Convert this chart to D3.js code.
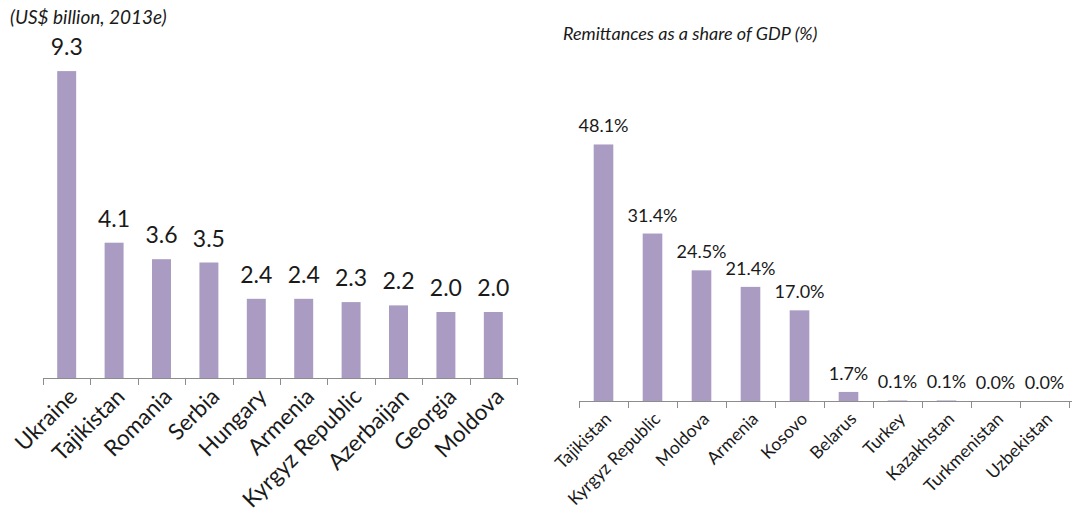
<!DOCTYPE html>
<html>
<head>
<meta charset="utf-8">
<script src="https://cdn.jsdelivr.net/npm/d3@7"></script>
<style>
  body { margin: 0; background: #fff; }
  svg text { font-family: Lato, "Open Sans", sans-serif; fill: #1a1a1a; }
</style>
</head>
<body>
<div id="chart"></div>
<script>
// Left panel: remittance inflows, US$ billion (2013e)
const volumeCountries = ["Ukraine", "Tajikistan", "Romania", "Serbia", "Hungary", "Armenia",
    "Kyrgyz Republic", "Azerbaijan", "Georgia", "Moldova"];
const volumeValues = [9.3, 4.1, 3.6, 3.5, 2.4, 2.4, 2.3, 2.2, 2.0, 2.0];

// Right panel: remittances as a share of GDP (%)
const shareCountries = ["Tajikistan", "Kyrgyz Republic", "Moldova", "Armenia", "Kosovo",
    "Belarus", "Turkey", "Kazakhstan", "Turkmenistan", "Uzbekistan"];
const shareValues = [48.1, 31.4, 24.5, 21.4, 17.0, 1.7, 0.1, 0.1, 0.0, 0.0];

const barColor = "#a99bc1";
const axisColor = "#8c8c8c";

const svg = d3.select("#chart")
    .append("svg")
    .attr("width", 1072)
    .attr("height", 517);

function drawPanel(opts) {
    const data = opts.names.map((n, i) => ({ name: n, value: opts.values[i] }));

    const x = d3.scaleBand()
        .domain(opts.names)
        .range([opts.x0, opts.x1])
        .paddingInner(0.6)
        .paddingOuter(0.3);

    const y = d3.scaleLinear()
        .domain([0, opts.yMax])
        .range([opts.base, opts.top]);

    const g = svg.append("g");

    // title
    g.append("text")
        .attr("x", opts.titleX)
        .attr("y", opts.titleY)
        .style("font-style", "italic")
        .style("font-size", opts.titleSize + "px")
        .text(opts.title);

    // bars
    g.selectAll(".bar")
        .data(data)
        .enter().append("rect")
        .attr("class", "bar")
        .attr("x", d => x(d.name))
        .attr("width", x.bandwidth())
        .attr("y", d => y(d.value))
        .attr("height", d => opts.base - y(d.value))
        .attr("fill", barColor);

    // value labels
    g.selectAll(".val")
        .data(data)
        .enter().append("text")
        .attr("class", "val")
        .attr("x", d => x(d.name) + x.bandwidth() / 2)
        .attr("y", d => y(d.value) - opts.labelGap)
        .attr("text-anchor", "middle")
        .style("font-size", opts.valueSize + "px")
        .text(d => opts.fmt(d.value));

    // axis line + ticks at band boundaries
    const step = x.step();
    const edges = d3.range(opts.names.length + 1).map(i => opts.x0 + i * step);
    g.append("line")
        .attr("x1", opts.x0).attr("x2", opts.axisEnd)
        .attr("y1", opts.base + 0.5).attr("y2", opts.base + 0.5)
        .attr("stroke", axisColor);
    g.selectAll(".tick")
        .data(edges)
        .enter().append("line")
        .attr("class", "tick")
        .attr("x1", d => Math.round(d) + 0.5).attr("x2", d => Math.round(d) + 0.5)
        .attr("y1", opts.base).attr("y2", opts.base + 7)
        .attr("stroke", axisColor);

    // rotated category labels
    g.selectAll(".cat")
        .data(data)
        .enter().append("text")
        .attr("class", "cat")
        .attr("text-anchor", "end")
        .attr("transform", d => `translate(${x(d.name) + x.bandwidth() / 2 + opts.catDx},${opts.base + opts.catDy}) rotate(-45)`)
        .style("font-size", opts.catSize + "px")
        .text(d => d.name);
}

drawPanel({
    names: volumeCountries, values: volumeValues,
    x0: 43, x1: 517, axisEnd: 517, base: 378, top: 48, yMax: 10,
    title: "(US$ billion, 2013e)", titleX: 10, titleY: 24, titleSize: 19,
    labelGap: 16, valueSize: 23, fmt: d3.format(".1f"),
    catSize: 22.5, catDx: 12, catDy: 20
});

drawPanel({
    names: shareCountries, values: shareValues,
    x0: 579, x1: 1069, axisEnd: 1072, base: 401, top: 81, yMax: 60,
    title: "Remittances as a share of GDP (%)", titleX: 563, titleY: 40, titleSize: 18,
    labelGap: 12, valueSize: 18, fmt: d => d3.format(".1f")(d) + "%",
    catSize: 17.5, catDx: 9, catDy: 19
});
</script>
</body>
</html>
